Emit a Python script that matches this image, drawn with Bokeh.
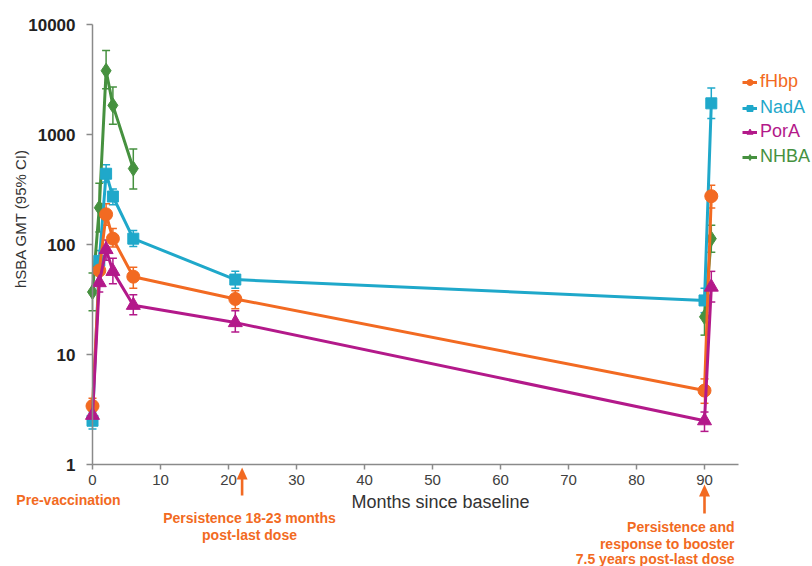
import math
from bokeh.plotting import figure
from bokeh.models import (ColumnDataSource, Whisker, TeeHead, Legend, LegendItem, Label,
                          PolyAnnotation, Range1d, FixedTicker, NumeralTickFormatter)
from bokeh.embed import file_html
from bokeh.resources import INLINE

# ---- data ----
months_main = [0, 1, 2, 3, 6, 21, 90, 91]
months_nhba = [0, 1, 2, 3, 6, 90, 91]
nhba_break = 5  # NHBA line is not drawn between month 6 and month 90

fhbp = [3.4, 58, 188, 113, 51, 32, 4.7, 275]
fhbp_lo = [2.9, 45, 150, 95, 40, 26, 3.6, 215]
fhbp_hi = [4.0, 70, 235, 140, 62, 38, 6.0, 345]

nada = [2.5, 71, 440, 273, 113, 48, 31, 1920]
nada_lo = [2.1, 58, 370, 230, 96, 40, 24, 1400]
nada_hi = [3.0, 88, 530, 320, 134, 57, 40, 2650]

pora = [2.8, 45, 90, 57, 28, 19.5, 2.5, 41]
pora_lo = [2.4, 37, 72, 44, 23, 16, 2.0, 30]
pora_hi = [3.4, 55, 110, 75, 35, 25, 3.0, 57]

nhba = [37, 216, 3800, 1840, 490, 22, 113]
nhba_lo = [25, 130, 2600, 1240, 320, 15, 85]
nhba_hi = [55, 360, 5800, 2700, 740, 30, 150]

y_ticks = [1, 10, 100, 1000, 10000]
x_ticks = [0, 10, 20, 30, 40, 50, 60, 70, 80, 90]
arrow_months = [22, 90]

series = [
    ("NHBA", months_nhba, nhba, nhba_lo, nhba_hi, "#46913F", "diamond", 15, nhba_break),
    ("NadA", months_main, nada, nada_lo, nada_hi, "#1FA8CA", "square", 11, None),
    ("fHbp", months_main, fhbp, fhbp_lo, fhbp_hi, "#F26A22", "circle", 13, None),
    ("PorA", months_main, pora, pora_lo, pora_hi, "#B3198A", "triangle", 14, None),
]
legend_order = ["fHbp", "NadA", "PorA", "NHBA"]

ORANGE = "#F26A22"
FONT = "Liberation Sans"

# ---- layout: the frame fills the canvas, the axes sit at fixed data locations ----
W, H = 812, 566
AX_LEFT, AX_RIGHT, AX_TOP, AX_BOTTOM = 92, 738, 24, 464   # pixel box of the axes
X_MIN, X_MAX, Y_MIN, Y_MAX = 0, 95, 1, 10000
ppm = (AX_RIGHT - AX_LEFT) / (X_MAX - X_MIN)
ppd = (AX_BOTTOM - AX_TOP) / math.log10(Y_MAX / Y_MIN)
x_range = Range1d(X_MIN - AX_LEFT / ppm, X_MAX + (W - AX_RIGHT) / ppm)
y_range = Range1d(Y_MIN * 10 ** (-(H - AX_BOTTOM) / ppd), Y_MAX * 10 ** (AX_TOP / ppd))
AXIS_SY = H - AX_BOTTOM  # screen y (from bottom) of the x axis

p = figure(width=W, height=H, output_backend="svg", toolbar_location=None,
           y_axis_type="log", x_range=x_range, y_range=y_range,
           min_border=0, min_border_left=0, min_border_right=0,
           min_border_top=0, min_border_bottom=0)
p.title.visible = False
p.outline_line_color = None
p.xgrid.visible = False
p.ygrid.visible = False

renderers = {}
for name, xs, ys, lo, hi, col, marker, size, brk in series:
    src = ColumnDataSource(dict(x=xs, y=ys, lo=lo, hi=hi))
    p.add_layout(Whisker(source=src, base="x", upper="hi", lower="lo", dimension="height",
                         line_color=col, line_width=1.5,
                         upper_head=TeeHead(size=8, line_color=col, line_width=1.5),
                         lower_head=TeeHead(size=8, line_color=col, line_width=1.5)))
    if brk is None:
        lines = [p.line(xs, ys, line_color=col, line_width=3)]
    else:
        lines = [p.line(xs[:brk], ys[:brk], line_color=col, line_width=3),
                 p.line(xs[brk:], ys[brk:], line_color=col, line_width=3)]
    sc = p.scatter("x", "y", source=src, marker=marker, size=size,
                   fill_color=col, line_color=col)
    renderers[name] = (lines[0], sc, col)

# legends (one per series so each label keeps its colour)
legend_tops_px = [92, 118, 142, 167]
for name, top in zip(legend_order, legend_tops_px):
    ln, sc, col = renderers[name]
    p.add_layout(Legend(items=[LegendItem(label=name, renderers=[ln, sc])],
                        location=(742, H - top), orientation="vertical",
                        background_fill_alpha=0, border_line_alpha=0,
                        padding=0, margin=0, spacing=0,
                        glyph_width=15, glyph_height=20, label_height=20,
                        label_standoff=3, label_text_font_size="18px",
                        label_text_font=FONT, label_text_color=col))

# axes
p.yaxis.fixed_location = X_MIN
p.yaxis.bounds = (Y_MIN, Y_MAX)
p.yaxis.ticker = FixedTicker(ticks=y_ticks)
p.yaxis.formatter = NumeralTickFormatter(format="0")
p.yaxis.minor_tick_line_color = None
p.yaxis.major_tick_in = 0
p.yaxis.major_tick_out = 6
p.yaxis.major_label_standoff = 11
p.yaxis.major_label_text_font = FONT
p.yaxis.major_label_text_font_style = "bold"
p.yaxis.major_label_text_font_size = "17px"
p.yaxis.major_label_text_color = "#222222"
p.yaxis.axis_line_color = "#8a8a8a"
p.yaxis.axis_line_width = 1.5
p.yaxis.major_tick_line_color = "#8a8a8a"
p.yaxis.major_tick_line_width = 1.5

p.xaxis.fixed_location = Y_MIN
p.xaxis.bounds = (X_MIN, X_MAX)
p.xaxis.ticker = FixedTicker(ticks=x_ticks)
p.xaxis.minor_tick_line_color = None
p.xaxis.major_tick_in = 0
p.xaxis.major_tick_out = 5
p.xaxis.major_label_standoff = 5
p.xaxis.major_label_text_font = FONT
p.xaxis.major_label_text_font_size = "15px"
p.xaxis.major_label_text_color = "#404040"
p.xaxis.axis_line_color = "#8a8a8a"
p.xaxis.axis_line_width = 1.5
p.xaxis.major_tick_line_color = "#8a8a8a"
p.xaxis.major_tick_line_width = 1.5

# axis titles
p.add_layout(Label(x=20, y=H - 218, x_units="screen", y_units="screen", angle=math.pi / 2,
                   text="hSBA GMT (95% CI)", text_align="center", text_baseline="middle",
                   text_font=FONT, text_font_size="15px", text_color="#333333"))
p.add_layout(Label(x=440, y=H - 501, x_units="screen", y_units="screen",
                   text="Months since baseline", text_align="center", text_baseline="middle",
                   text_font=FONT, text_font_size="18px", text_color="#333333"))

def lab(x, ypx, t, align="center"):
    p.add_layout(Label(x=x, y=H - ypx, x_units="screen", y_units="screen", text=t,
                       text_align=align, text_baseline="middle", text_font=FONT,
                       text_font_style="bold", text_font_size="14px", text_color=ORANGE))

lab(68, 499, "Pre-vaccination")
lab(249, 517, "Persistence 18-23 months")
lab(249, 534, "post-last dose")
lab(734, 526, "Persistence and", "right")
lab(734, 543, "response to booster", "right")
lab(734, 558, "7.5 years post-last dose", "right")

# arrows (shaft + head): x in months, y in pixels below the x axis
for xm, tip, tail in zip(arrow_months, [3, 20], [31, 49]):
    hw = 1.3 / ppm
    hh = 5.5 / ppm
    p.add_layout(PolyAnnotation(xs=[xm - hw, xm + hw, xm + hw, xm - hw],
                                ys=[AXIS_SY - tail, AXIS_SY - tail,
                                    AXIS_SY - (tip + 9), AXIS_SY - (tip + 9)],
                                xs_units="data", ys_units="screen",
                                fill_color=ORANGE, fill_alpha=1, line_color=None))
    p.add_layout(PolyAnnotation(xs=[xm - hh, xm + hh, xm],
                                ys=[AXIS_SY - (tip + 12), AXIS_SY - (tip + 12), AXIS_SY - tip],
                                xs_units="data", ys_units="screen",
                                fill_color=ORANGE, fill_alpha=1, line_color=None))

open("out.html", "w").write(file_html(p, INLINE))
